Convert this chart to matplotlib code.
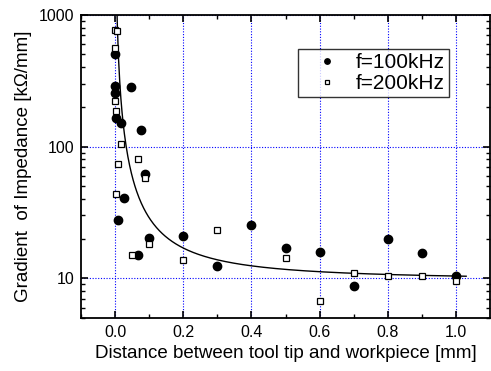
import numpy as np
import matplotlib
matplotlib.use("Agg")
import matplotlib.pyplot as plt
from matplotlib.ticker import FixedLocator, LogLocator, NullFormatter, FixedFormatter

plt.rcParams['font.family'] = ['Liberation Sans', 'DejaVu Sans']

# f=100kHz (filled circles)
x100 = [0.0, 0.0, 0.0, 0.003, 0.018, 0.047, 0.076, 0.088, 0.026, 0.009,
        0.10, 0.067, 0.20, 0.30, 0.40, 0.50, 0.60, 0.70, 0.80, 0.90, 1.00]
y100 = [507, 290, 256, 166, 151, 285, 134, 62, 41, 27.6,
        20.4, 14.9, 20.8, 12.3, 25.2, 16.9, 15.7, 8.7, 20.0, 15.5, 10.5]

# f=200kHz (open squares)
x200 = [0.0, 0.005, 0.0, 0.0, 0.003, 0.018, 0.009, 0.067, 0.088, 0.003,
        0.10, 0.05, 0.20, 0.30, 0.50, 0.60, 0.70, 0.80, 0.90, 1.00]
y200 = [769, 750, 563, 223, 187, 105, 74, 81, 58, 44,
        18.1, 14.9, 13.7, 23.1, 14.2, 6.7, 10.9, 10.4, 10.5, 9.5]

# fitted curve parameters: y = y0 + A * x**(-n)
fit_y0, fit_A, fit_n = 9.6, 0.8, 1.38
fit_xmin, fit_xmax = 0.005, 1.03

xticks = [0.0, 0.2, 0.4, 0.6, 0.8, 1.0]
xticklabels = ['0.0', '0.2', '0.4', '0.6', '0.8', '1.0']
yticks = [10, 100, 1000]
yticklabels = ['10', '100', '1000']

fig = plt.figure(figsize=(4.91, 3.71), dpi=100)
ax = fig.add_axes([0.165, 0.143, 0.833, 0.817])

xf = np.linspace(fit_xmin, fit_xmax, 600)
yf = fit_y0 + fit_A * xf ** (-fit_n)
ax.plot(xf, yf, color='black', lw=1.0, zorder=3)

ax.plot(x100, y100, 'o', color='black', ms=6, ls='none', label='f=100kHz', zorder=4)
ax.plot(x200, y200, 's', mfc='white', mec='black', mew=0.9, ms=5, ls='none',
        label='f=200kHz', zorder=5)

ax.set_yscale('log')
ax.set_xlim(-0.1, 1.1)
ax.set_ylim(5, 1000)

ax.xaxis.set_major_locator(FixedLocator(xticks))
ax.xaxis.set_major_formatter(FixedFormatter(xticklabels))
ax.xaxis.set_minor_locator(FixedLocator([-0.1, 0.1, 0.3, 0.5, 0.7, 0.9]))
ax.yaxis.set_major_locator(FixedLocator(yticks))
ax.yaxis.set_major_formatter(FixedFormatter(yticklabels))
ax.yaxis.set_minor_locator(LogLocator(base=10, subs=np.arange(2, 10)))
ax.yaxis.set_minor_formatter(NullFormatter())

ax.tick_params(which='both', direction='in', top=True, right=True, labelsize=11.5)
ax.tick_params(which='major', length=5, width=1.2, pad=5)
ax.tick_params(which='minor', length=3, width=1.0)
for s in ax.spines.values():
    s.set_linewidth(1.3)

ax.grid(True, which='major', color='#0000ff', ls=(0, (1, 1.5)), lw=0.8)
ax.set_axisbelow(True)

ax.set_xlabel('Distance between tool tip and workpiece [mm]', fontsize=13.5, labelpad=4)
ax.set_ylabel('Gradient  of Impedance [kΩ/mm]', fontsize=13.5, labelpad=5)

leg = ax.legend(loc='upper right', bbox_to_anchor=(0.900, 0.888), fontsize=15,
                markerscale=0.65, frameon=True, fancybox=False, edgecolor='black',
                handletextpad=0.2, borderpad=0.2, labelspacing=0.1, handlelength=2.4,
                borderaxespad=0.0)
leg.get_frame().set_linewidth(1.0)

fig.savefig('out.png', dpi=100)
